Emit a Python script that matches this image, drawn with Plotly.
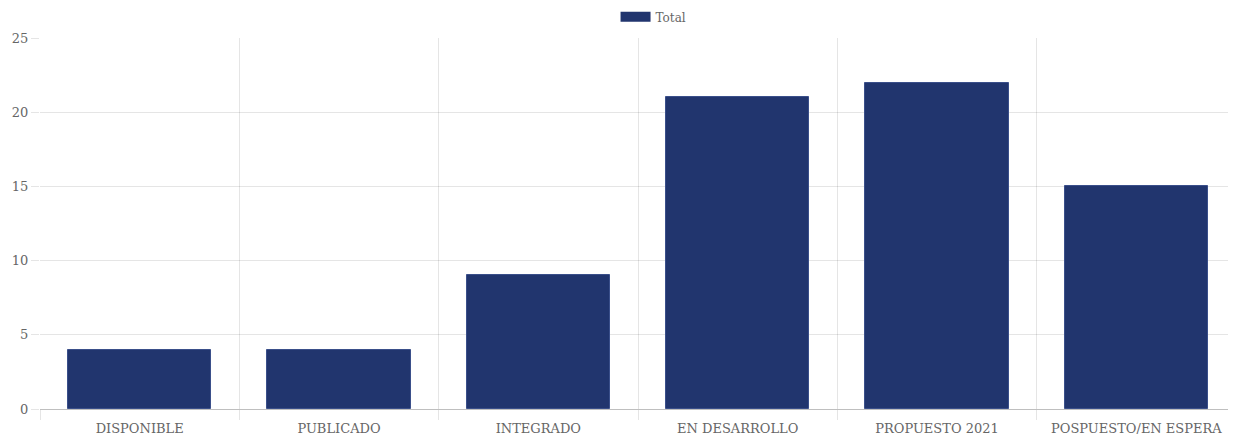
import plotly.graph_objects as go

categories = ["DISPONIBLE", "PUBLICADO", "INTEGRADO", "EN DESARROLLO", "PROPUESTO 2021", "POSPUESTO/EN ESPERA"]
totals = [4, 4, 9, 21, 22, 15]
y_ticks = [0, 5, 10, 15, 20, 25]
series_name = "Total"

bar_color = "#21356e"
grid_color = "rgba(0,0,0,0.1)"
font_family = "DejaVu Serif"
text_color = "#666666"

n = len(categories)
positions = list(range(n))
boundaries = [i - 0.5 for i in range(n + 1)]

fig = go.Figure()
fig.add_trace(go.Bar(
    x=positions, y=totals, name=series_name, showlegend=False,
    marker=dict(color=bar_color, line=dict(color="#3a4f8a", width=1)),
    width=0.72, hoverinfo="y",
))
# legend entry rendered as a wide swatch
fig.add_trace(go.Scatter(
    x=[None], y=[None], mode="lines", name=series_name,
    line=dict(color=bar_color, width=14), showlegend=True,
))
# invisible trace on a helper axis to draw boundary grid lines
fig.add_trace(go.Scatter(x=[boundaries[0], boundaries[-1]], y=[0, 0], xaxis="x2",
                         mode="markers", marker=dict(opacity=0), showlegend=False, hoverinfo="skip"))

# the page body adds an 8px offset, so the figure is 8px smaller than the window
fig.update_layout(
    width=1228, height=428,
    margin=dict(l=32, r=0, t=30, b=27, autoexpand=False),
    paper_bgcolor="white", plot_bgcolor="white",
    font=dict(family=font_family, size=12, color=text_color),
    showlegend=True,
    legend=dict(orientation="h", x=0.513, xanchor="center", y=1.057, yanchor="middle",
                font=dict(size=12, color=text_color), itemwidth=30),
    xaxis=dict(
        range=[boundaries[0], boundaries[-1]], automargin=False,
        tickmode="array", tickvals=positions, ticktext=categories,
        showgrid=False, zeroline=False, showline=False, ticks="",
        tickfont=dict(size=13, color=text_color), ticklabelstandoff=10,
    ),
    xaxis2=dict(
        overlaying="x", range=[boundaries[0], boundaries[-1]], automargin=False,
        tickmode="array", tickvals=boundaries, showticklabels=False,
        showgrid=True, gridcolor=grid_color, gridwidth=1,
        ticks="outside", ticklen=10, tickcolor=grid_color, tickwidth=1,
        zeroline=False, showline=False, side="bottom", anchor="y",
    ),
    yaxis=dict(
        range=[0, 25], tickmode="array", tickvals=y_ticks, automargin=False,
        showgrid=True, gridcolor=grid_color, gridwidth=1,
        ticks="outside", ticklen=8, tickcolor=grid_color,
        zeroline=True, zerolinecolor="rgba(0,0,0,0.25)", zerolinewidth=1,
        showline=False, tickfont=dict(size=13, color=text_color),
    ),
    bargap=0,
)

fig.write_html("out.html")
